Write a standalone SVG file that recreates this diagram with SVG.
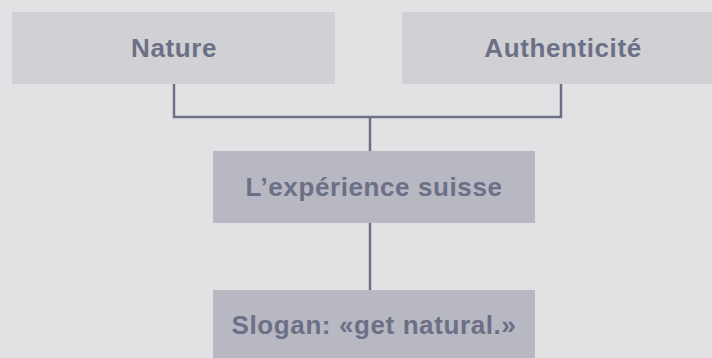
<svg xmlns="http://www.w3.org/2000/svg" width="712" height="358" viewBox="0 0 712 358">
  <style>
    .bg { fill: #e2e2e4; }
    .top { fill: #d0d0d5; }
    .mid { fill: #b8b8c2; }
    .lbl { font-family: "Liberation Sans", Arial, sans-serif; font-weight: bold; font-size: 26px; fill: #6b7086; text-anchor: middle; letter-spacing: 0.6px; }
    .conn { stroke: #6b7086; stroke-width: 2.5; fill: none; }
  </style>
  <rect class="bg" x="0" y="0" width="712" height="358"/>
  <g id="connectors">
    <path class="conn" d="M174 84 V117 H561 V84"/>
    <path class="conn" d="M370 117 V151"/>
    <path class="conn" d="M370 223 V290"/>
  </g>
  <g id="nature">
    <rect class="top" x="12" y="12" width="323" height="72"/>
    <text class="lbl" x="174" y="57">Nature</text>
  </g>
  <g id="authenticite">
    <rect class="top" x="402" y="12" width="322" height="72"/>
    <text class="lbl" x="563" y="57">Authenticité</text>
  </g>
  <g id="experience">
    <rect class="mid" x="213" y="151" width="322" height="72"/>
    <text class="lbl" x="374" y="196">L’expérience suisse</text>
  </g>
  <g id="slogan">
    <rect class="mid" x="213" y="290" width="322" height="72"/>
    <text class="lbl" x="374" y="334">Slogan: «get natural.»</text>
  </g>
</svg>
